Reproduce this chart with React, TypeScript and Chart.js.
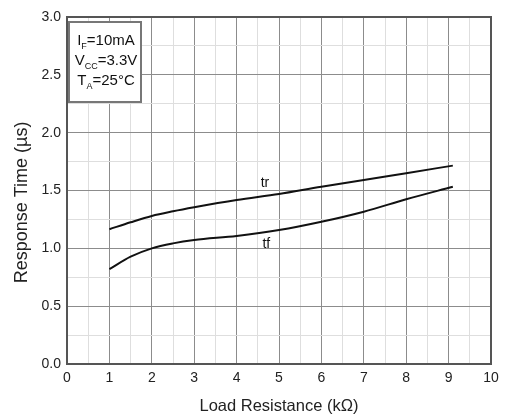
import React, { useEffect, useRef } from "react";
import { Chart, registerables } from "chart.js";

Chart.register(...registerables);

const resistance = [1, 1.5, 2, 2.5, 3, 4, 5, 6, 7, 8, 9.1];
const trValues = [1.165, 1.225, 1.28, 1.32, 1.355, 1.418, 1.47, 1.533, 1.59, 1.65, 1.715];
const tfValues = [0.82, 0.928, 1.0, 1.043, 1.072, 1.107, 1.158, 1.23, 1.317, 1.424, 1.533];

const curveLabels = [
  { text: "tr", x: 4.67, y: 1.565 },
  { text: "tf", x: 4.7, y: 1.04 },
];

const yAxisTitle = "Response Time (µs)";
const xAxisTitle = "Load Resistance (kΩ)";

// condition box lines: [main, subscript, rest]
const conditionLines: [string, string, string][] = [
  ["I", "F", "=10mA"],
  ["V", "CC", "=3.3V"],
  ["T", "A", "=25°C"],
];

const FONT = "'Liberation Sans', Arial, sans-serif";

const overlayPlugin = {
  id: "overlay",
  afterDatasetsDraw(chart: any) {
    const { ctx, chartArea, scales } = chart;
    ctx.save();
    // frame
    ctx.strokeStyle = "#555";
    ctx.lineWidth = 2;
    ctx.strokeRect(chartArea.left, chartArea.top, chartArea.right - chartArea.left, chartArea.bottom - chartArea.top);

    // curve labels
    ctx.fillStyle = "#111";
    ctx.font = `14px ${FONT}`;
    ctx.textAlign = "center";
    ctx.textBaseline = "middle";
    curveLabels.forEach((l) => {
      ctx.fillText(l.text, scales.x.getPixelForValue(l.x), scales.y.getPixelForValue(l.y));
    });

    // y axis title
    ctx.save();
    ctx.translate(22, (chartArea.top + chartArea.bottom) / 2 + 12);
    ctx.rotate(-Math.PI / 2);
    ctx.font = `18px ${FONT}`;
    ctx.fillStyle = "#222";
    ctx.fillText(yAxisTitle, 0, 0);
    ctx.restore();

    // conditions box
    const bx = chartArea.left + 2;
    const by = chartArea.top + 5;
    const bw = 72;
    const bh = 80;
    ctx.fillStyle = "#fff";
    ctx.fillRect(bx, by, bw, bh);
    ctx.strokeStyle = "#777";
    ctx.lineWidth = 2;
    ctx.strokeRect(bx, by, bw, bh);

    ctx.fillStyle = "#111";
    ctx.textAlign = "left";
    ctx.textBaseline = "alphabetic";
    conditionLines.forEach((parts, i) => {
      const [main, sub, rest] = parts;
      ctx.font = `15px ${FONT}`;
      const w1 = ctx.measureText(main).width;
      const w3 = ctx.measureText(rest).width;
      ctx.font = `9px ${FONT}`;
      const w2 = ctx.measureText(sub).width;
      const total = w1 + w2 + w3;
      let x = bx + bw / 2 - total / 2 + 1;
      const y = by + 23 + i * 20;
      ctx.font = `15px ${FONT}`;
      ctx.fillText(main, x, y);
      x += w1;
      ctx.font = `9px ${FONT}`;
      ctx.fillText(sub, x, y + 4);
      x += w2;
      ctx.font = `15px ${FONT}`;
      ctx.fillText(rest, x, y);
    });
    ctx.restore();
  },
};

export default function App() {
  const canvasRef = useRef<HTMLCanvasElement | null>(null);

  useEffect(() => {
    if (!canvasRef.current) return;
    const chart = new Chart(canvasRef.current, {
      type: "line",
      data: {
        datasets: [
          {
            label: "tr",
            data: resistance.map((x, i) => ({ x, y: trValues[i] })),
            borderColor: "#111",
            borderWidth: 2,
            pointRadius: 0,
            cubicInterpolationMode: "monotone",
            fill: false,
          },
          {
            label: "tf",
            data: resistance.map((x, i) => ({ x, y: tfValues[i] })),
            borderColor: "#111",
            borderWidth: 2,
            pointRadius: 0,
            cubicInterpolationMode: "monotone",
            fill: false,
          },
        ],
      },
      options: {
        animation: false,
        responsive: false,
        maintainAspectRatio: false,
        layout: { padding: { left: 0, top: 17, right: 14, bottom: 0 } },
        plugins: { legend: { display: false }, tooltip: { enabled: false } },
        scales: {
          x: {
            type: "linear",
            min: 0,
            max: 10,
            afterFit: (s: any) => {
              s.height = 50;
            },
            afterBuildTicks: (s: any) => {
              const t = [];
              for (let v = 0; v <= 10.001; v += 0.5) t.push({ value: Math.round(v * 10) / 10 });
              s.ticks = t;
            },
            ticks: {
              color: "#222",
              font: { family: FONT, size: 14 },
              padding: 6,
              maxRotation: 0,
              autoSkip: false,
              callback: (v: any) => (Number.isInteger(v) ? String(v) : ""),
            },
            grid: {
              drawTicks: false,
              color: (c: any) => (Number.isInteger(c.tick?.value) ? "#8c8c8c" : "#dedede"),
              lineWidth: 1,
            },
            border: { display: false },
            title: {
              display: true,
              text: xAxisTitle,
              color: "#222",
              font: { family: FONT, size: 16.5 },
              padding: { top: 0, bottom: -2 },
            },
          },
          y: {
            type: "linear",
            min: 0,
            max: 3,
            afterFit: (s: any) => {
              s.width = 67;
            },
            afterBuildTicks: (s: any) => {
              const t = [];
              for (let v = 0; v <= 3.001; v += 0.25) t.push({ value: Math.round(v * 100) / 100 });
              s.ticks = t;
            },
            ticks: {
              color: "#222",
              font: { family: FONT, size: 14 },
              padding: 6,
              autoSkip: false,
              callback: (v: any) => (Math.abs(v * 2 - Math.round(v * 2)) < 1e-6 ? Number(v).toFixed(1) : ""),
            },
            grid: {
              drawTicks: false,
              color: (c: any) => {
                const v = c.tick?.value ?? 0;
                return Math.abs(v * 2 - Math.round(v * 2)) < 1e-6 ? "#8c8c8c" : "#dedede";
              },
              lineWidth: 1,
            },
            border: { display: false },
            title: { display: false },
          },
        },
      },
      plugins: [overlayPlugin],
    } as any);
    return () => chart.destroy();
  }, []);

  return (
    <div style={{ position: "absolute", left: 0, top: 0, width: 505, height: 414, background: "#fff" }}>
      <canvas ref={canvasRef} width={505} height={414} style={{ width: 505, height: 414, display: "block" }} />
    </div>
  );
}
